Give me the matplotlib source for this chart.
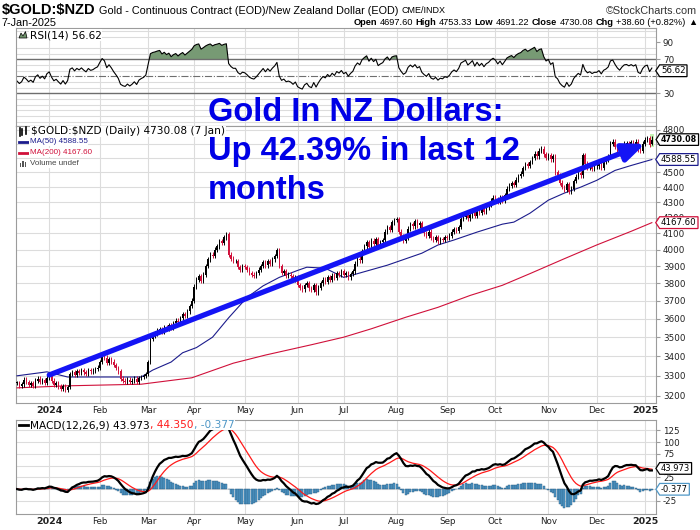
import numpy as np
import pandas as pd
import matplotlib
matplotlib.use('Agg')
import matplotlib.pyplot as plt
from matplotlib.lines import Line2D
from matplotlib.patches import Polygon, Rectangle
from matplotlib.path import Path
from matplotlib.ticker import FixedLocator, NullLocator, FuncFormatter
from matplotlib import font_manager

# trading days shown on the chart (weekdays minus exchange holidays)
holidays = ['2023-12-25', '2024-01-01', '2024-03-29', '2024-12-25', '2025-01-01']
dates = pd.bdate_range('2023-12-11', '2025-01-07')
dates = dates[~dates.isin(pd.to_datetime(holidays))]

# daily closes ($GOLD:$NZD)
close_2023_12 = [3265, 3250, 3258, 3280, 3270, 3255, 3262, 3250, 3275, 3285, 3268, 3278, 3265, 3290]
close_2024_01 = [3300, 3275, 3255, 3262, 3248, 3235, 3250, 3230, 3245, 3310, 3320, 3305, 3322, 3315,
                 3328, 3318, 3310, 3330, 3322, 3326, 3335, 3342]
close_2024_02 = [3370, 3400, 3392, 3365, 3385, 3372, 3355, 3340, 3322, 3285, 3275, 3270, 3280, 3268,
                 3275, 3285, 3270, 3288, 3295, 3300, 3310]
close_2024_03 = [3370, 3490, 3510, 3520, 3535, 3545, 3530, 3555, 3545, 3565, 3550, 3575, 3590, 3580,
                 3605, 3625, 3615, 3640, 3670, 3700]
close_2024_04 = [3780, 3820, 3840, 3815, 3850, 3900, 3940, 3970, 3960, 4000, 4020, 4050, 4040, 4075,
                 4095, 3970, 3945, 3930, 3930, 3895, 3880, 3900]
close_2024_05 = [3895, 3880, 3860, 3850, 3845, 3860, 3880, 3900, 3925, 3905, 3930, 3915, 3940, 3960,
                 3995, 3900, 3860, 3870, 3845, 3850, 3840, 3820, 3835]
close_2024_06 = [3790, 3775, 3765, 3790, 3800, 3770, 3760, 3790, 3748, 3775, 3800, 3820, 3810, 3835,
                 3820, 3845, 3830, 3860, 3850, 3870]
close_2024_07 = [3850, 3860, 3835, 3855, 3870, 3915, 3945, 3935, 3990, 4020, 4045, 4015, 4055, 4035,
                 4065, 4025, 4045, 4060, 4110, 4140, 4120, 4170, 4185]
close_2024_08 = [4190, 4110, 4080, 4055, 4070, 4130, 4160, 4145, 4175, 4150, 4165, 4120, 4100, 4085,
                 4110, 4070, 4060, 4075, 4050, 4065, 4060, 4075]
close_2024_09 = [4070, 4085, 4110, 4125, 4115, 4140, 4190, 4205, 4220, 4195, 4215, 4240, 4210, 4250,
                 4230, 4255, 4235, 4265, 4280, 4310, 4330]
close_2024_10 = [4320, 4300, 4330, 4310, 4345, 4390, 4410, 4425, 4415, 4450, 4475, 4490, 4530, 4555,
                 4545, 4570, 4600, 4630, 4610, 4650, 4665, 4625, 4600]
close_2024_11 = [4620, 4590, 4610, 4500, 4480, 4430, 4400, 4380, 4420, 4370, 4390, 4440, 4470, 4495,
                 4480, 4620, 4560, 4530, 4545, 4525, 4540]
close_2024_12 = [4540, 4560, 4530, 4570, 4585, 4610, 4700, 4715, 4680, 4650, 4630, 4670, 4700, 4705,
                 4695, 4710, 4700, 4715, 4660, 4650, 4700]
close_2025_01 = [4730, 4740, 4691.48, 4730.08]

closes = np.array(close_2023_12 + close_2024_01 + close_2024_02 + close_2024_03 + close_2024_04 +
                  close_2024_05 + close_2024_06 + close_2024_07 + close_2024_08 + close_2024_09 +
                  close_2024_10 + close_2024_11 + close_2024_12 + close_2025_01, dtype=float)

last_open, last_high, last_low, last_close = 4697.60, 4753.33, 4691.22, 4730.08

# moving averages (bar number, value)
ma50_idx = [0, 13, 22, 54, 59, 67, 72, 78, 85, 92, 100, 107, 114, 122, 126, 134, 142, 147, 161,
            176, 183, 190, 200, 211, 216, 223, 231, 238, 245, 252, 260, 267, 276]
ma50_val = [3300, 3320, 3294, 3294, 3329, 3370, 3418, 3445, 3500, 3605, 3719, 3785, 3834, 3875,
            3894, 3888, 3834, 3852, 3906, 3978, 4028, 4059, 4108, 4158, 4171, 4228, 4313, 4360,
            4399, 4445, 4513, 4547, 4588.55]
ma200_idx = [0, 22, 54, 76, 94, 108, 128, 142, 154, 169, 183, 197, 211, 223, 238, 252, 267, 276]
ma200_val = [3240, 3250, 3258, 3290, 3364, 3406, 3460, 3500, 3545, 3608, 3663, 3730, 3788, 3856,
             3945, 4028, 4113, 4167.60]

# trend arrow drawn on the chart
arrow_start = ('2024-01-02', 3304)
arrow_end = ('2025-01-02', 4699)

rsi_last = 56.62
macd_last, signal_last, hist_last = 43.973, 44.350, -0.377

# ---- indicators
opens = np.r_[closes[0], closes[:-1]]
opens[-1] = last_open
delta = np.diff(closes, prepend=closes[0])
gains = np.clip(delta, 0, None)
losses = np.clip(-delta, 0, None)
avg_gain, avg_loss = 8.0, 10.0
rsi = []
for g, l in zip(gains, losses):
    avg_gain = (avg_gain * 13 + g) / 14
    avg_loss = (avg_loss * 13 + l) / 14
    rsi.append(100 - 100 / (1 + avg_gain / avg_loss))
rsi = np.array(rsi)

s = pd.Series(closes)
macd = (s.ewm(span=12, adjust=False).mean() - s.ewm(span=26, adjust=False).mean()).values
signal = pd.Series(macd).ewm(span=9, adjust=False).mean().values
hist = macd - signal

x = np.arange(len(closes))
month_pos = [i for i in range(1, len(dates)) if dates[i].month != dates[i - 1].month]
month_lab = [str(dates[i].year) if dates[i].month == 1 else dates[i].strftime('%b') for i in month_pos]

# ---- fonts
names = {f.name for f in font_manager.fontManager.ttflist}
if 'Liberation Sans Narrow' in names:
    NARROW, NSZ, NSZ2 = ['Liberation Sans Narrow', 'DejaVu Sans'], 9.3, 9.3
else:
    NARROW, NSZ, NSZ2 = ['Liberation Sans', 'DejaVu Sans'], 7.8, 6.7
plt.rcParams['font.family'] = ['DejaVu Sans']

W, H = 700, 530
fig = plt.figure(figsize=(7, 5.3), dpi=100)


def fx(px):
    return px / W


def fy(py):
    return 1 - py / H


L, R = 16, 656
ax_rsi = fig.add_axes([fx(L), fy(126), (R - L) / W, (126 - 28) / H])
ax = fig.add_axes([fx(L), fy(403), (R - L) / W, (403 - 126) / H])
ax_m = fig.add_axes([fx(L), fy(514), (R - L) / W, (514 - 420) / H])

GRID = '#dcdcdc'
SPINE = '#9c9c9c'
RED = '#d0103a'
NAVY = '#1c1c8c'
for a in (ax_rsi, ax, ax_m):
    a.set_xlim(-0.45, 277.8)
    for sp in a.spines.values():
        sp.set_color(SPINE)
        sp.set_linewidth(0.8)
    a.set_xticks(month_pos)
    a.set_xticklabels(month_lab)
    a.grid(True, axis='x', color=GRID, lw=0.8)
    a.yaxis.tick_right()
    a.tick_params(axis='y', which='major', labelsize=6.3, length=3, color=SPINE, pad=2, labelcolor='#222222')
    a.tick_params(axis='y', which='minor', length=0)
    a.tick_params(axis='x', length=0, labelsize=6.3, pad=2, labelcolor='#222222')
    a.set_axisbelow(True)
    for lab in a.get_xticklabels():
        if lab.get_text().isdigit():
            lab.set_fontweight('bold')
            lab.set_fontsize(6.8)
ax_rsi.tick_params(axis='x', labelbottom=False)

# ---- RSI panel (the 50 label sits under the value tag)
ax_rsi.set_ylim(-8.5, 107)
ax_rsi.set_yticks([30, 50, 70, 90])
ax_rsi.set_yticklabels(['30', '', '70', '90'])
ax_rsi.yaxis.set_minor_locator(FixedLocator([30 + k * 20 / 3 for k in range(-5, 12)]))
ax_rsi.grid(True, axis='y', which='minor', color=GRID, lw=0.8)
ax_rsi.axhline(70, color='#6e6e6e', lw=1.0)
ax_rsi.axhline(30, color='#6e6e6e', lw=1.0)
ax_rsi.axhline(50, color='#6e6e6e', lw=0.8, ls='-.')
ax_rsi.fill_between(x, 70, rsi, where=rsi > 70, interpolate=True, color='#779a74', lw=0)
ax_rsi.plot(x, rsi, color='black', lw=0.8)

# ---- price panel
ax.set_yscale('log')
ax.set_ylim(3166, 4829)
price_ticks = list(range(3200, 4801, 100))
ax.yaxis.set_major_locator(FixedLocator(price_ticks))
ax.yaxis.set_minor_locator(NullLocator())
ax.yaxis.set_major_formatter(FuncFormatter(lambda v, p: '' if round(v) in (4600, 4700) else f'{v:.0f}'))
ax.grid(True, axis='y', which='major', color=GRID, lw=0.8)

ax.plot(ma200_idx, ma200_val, color=RED, lw=0.8, zorder=3)
ax.plot(ma50_idx, ma50_val, color=NAVY, lw=0.8, zorder=3)

wick = 0.0035
up = closes >= opens
ccol = np.where(up, 'black', RED)
hi = np.maximum(opens, closes) * (1 + wick)
lo = np.minimum(opens, closes) * (1 - wick)
hi[-1], lo[-1] = last_high, last_low
ax.bar(x[-1], last_high - last_low + 30, bottom=last_low - 15, width=2.0, color='#c6f2b4', zorder=2)
ax.vlines(x, lo, hi, colors=ccol, lw=0.7, zorder=4)
body_lo = np.minimum(opens, closes)
body_h = np.maximum(np.abs(closes - opens), 3)
ax.bar(x, body_h, bottom=body_lo, width=0.62, color=ccol, lw=0, zorder=4)

d0 = dates.get_loc(pd.Timestamp(arrow_start[0]))
d1 = dates.get_loc(pd.Timestamp(arrow_end[0]))
ax.annotate('', xy=(d1, arrow_end[1]), xytext=(d0, arrow_start[1]),
            arrowprops=dict(arrowstyle='-|>,head_length=1.3,head_width=0.55', lw=3.8,
                            color='#1414f5', shrinkA=0, shrinkB=0, mutation_scale=10), zorder=6)

# ---- MACD panel (50 and 0 labels sit under the value tags)
ax_m.set_ylim(-53, 147)
ax_m.set_yticks(range(-25, 126, 25))
ax_m.set_yticklabels(['-25', '', '25', '', '75', '100', '125'])
ax_m.grid(True, axis='y', color=GRID, lw=0.8)
ax_m.bar(x, hist, width=0.85, color='#4f97c6', edgecolor='#25597f', lw=0.3, zorder=2)
ax_m.plot(x, signal, color='#ff1a1a', lw=0.9, zorder=3)
ax_m.plot(x, macd, color='black', lw=1.6, zorder=4)


# ---- right-hand value tags
def tag_shape(x0, y0, width, height, mutation_size):
    pad = 0.16 * mutation_size
    x0, y0, width, height = x0 - pad, y0 - pad, width + 2 * pad, height + 2 * pad
    tip = 0.45 * mutation_size
    return Path([(x0 - tip, y0 + height / 2), (x0, y0), (x0 + width, y0), (x0 + width, y0 + height),
                 (x0, y0 + height), (x0 - tip, y0 + height / 2)], closed=True)


def tag(a, value, text, edge, bold=False, size=6.2):
    a.annotate(text, xy=(1, value), xycoords=('axes fraction', 'data'), xytext=(3.6, 0),
               textcoords='offset points', ha='left', va='center', fontsize=size,
               fontweight='bold' if bold else 'normal', annotation_clip=False, zorder=10,
               bbox=dict(boxstyle=tag_shape, fc='white', ec=edge, lw=0.9))


tag(ax_rsi, rsi_last, f'{rsi_last:.2f}', 'black')
tag(ax, last_close, f'{last_close:.2f}', 'black', bold=True, size=5.8)
tag(ax, ma50_val[-1], f'{ma50_val[-1]:.2f}', NAVY)
tag(ax, ma200_val[-1], f'{ma200_val[-1]:.2f}', RED)
tag(ax_m, macd_last, f'{macd_last:.3f}', 'black', size=6.0)
tag(ax_m, hist_last, f'{hist_last:.3f}', '#4f97c6', size=6.0)

# ---- legends inside the panels
wbg = dict(fc='white', ec='none', pad=0.4)
fig.add_artist(Polygon([(fx(19), fy(38)), (fx(21), fy(33)), (fx(23), fy(36)), (fx(25.5), fy(31.5)),
                        (fx(27), fy(38))], closed=True, fc='#6f936c', ec='black', lw=0.5))
fig.text(fx(30), fy(35), f'RSI(14) {rsi_last:.2f}', fontsize=7.6, va='center', bbox=wbg)

for xx, y0, y1 in [(19.5, 128, 136), (22.5, 129, 135), (25.5, 127, 134)]:
    fig.add_artist(Line2D([fx(xx), fx(xx)], [fy(y0), fy(y1)], color='black', lw=1.2))
fig.text(fx(31), fy(131.5), f'\\$GOLD:\\$NZD (Daily) {last_close:.2f} (7 Jan)', fontsize=7.6,
         va='center', bbox=wbg)
fig.add_artist(Line2D([fx(19), fx(28)], [fy(142), fy(142)], color=NAVY, lw=2))
fig.text(fx(29.5), fy(142), f'MA(50) {ma50_val[-1]:.2f}', fontsize=5.8, family='Liberation Sans',
         color=NAVY, va='center', bbox=wbg)
fig.add_artist(Line2D([fx(19), fx(28)], [fy(152.5), fy(152.5)], color=RED, lw=2))
fig.text(fx(29.5), fy(152.5), f'MA(200) {ma200_val[-1]:.2f}', fontsize=5.8, family='Liberation Sans',
         color=RED, va='center', bbox=wbg)
for xx, hh in [(19.5, 4), (22, 6), (24.5, 5)]:
    fig.add_artist(Rectangle((fx(xx), fy(167)), 1.8 / W, hh / H, color='#555555', lw=0))
fig.text(fx(29.5), fy(163.5), 'Volume undef', fontsize=5.8, family='Liberation Sans',
         color='#444444', va='center', bbox=wbg)

renderer = fig.canvas.get_renderer()


def text_run(x0, y0, pieces, gap=0.0, right=None, **kw):
    texts, widths = [], []
    for txt, weight, color in pieces:
        t = fig.text(fx(x0), fy(y0), txt, ha='left', va='center', fontweight=weight, color=color, **kw)
        texts.append(t)
        widths.append(t.get_window_extent(renderer).width)
    if right is not None:
        x0 = right - sum(widths) - gap * (len(widths) - 1)
    for t, w in zip(texts, widths):
        t.set_x(fx(x0))
        x0 += w + gap
    return x0


fig.add_artist(Line2D([fx(19), fx(28)], [fy(425), fy(425)], color='black', lw=2))
text_run(30.5, 425, [(f'MACD(12,26,9) {macd_last:.3f}', 'normal', 'black'),
                     (f', {signal_last:.3f}', 'normal', '#ff1a1a'),
                     (f', {hist_last:.3f}', 'normal', '#4f97c6')],
         fontsize=7.6, bbox=dict(fc='white', ec='none', pad=0.2))

# ---- header
fig.text(fx(2), fy(10), '\\$GOLD:\\$NZD', fontsize=10.5, fontweight='bold', family=NARROW, va='center')
text_run(99, 10.5, [('Gold - Continuous Contract (EOD)/New Zealand Dollar (EOD)', 'normal', 'black')],
         fontsize=NSZ, family=NARROW)
fig.text(fx(402), fy(10.5), 'CME/INDX', fontsize=NSZ - 1.3, family=NARROW, va='center')
fig.text(fx(697), fy(10.5), '\u00a9StockCharts.com', fontsize=NSZ, family=NARROW, va='center',
         ha='right', color='#333333')
fig.text(fx(2), fy(22.5), '7-Jan-2025', fontsize=NSZ, family=NARROW, va='center')
text_run(372, 22.5, [('Open', 'bold', 'black'), (f'{last_open:.2f}', 'normal', 'black'),
                     ('High', 'bold', 'black'), (f'{last_high:.2f}', 'normal', 'black'),
                     ('Low', 'bold', 'black'), (f'{last_low:.2f}', 'normal', 'black'),
                     ('Close', 'bold', 'black'), (f'{last_close:.2f}', 'normal', 'black'),
                     ('Chg', 'bold', 'black'), ('+38.60 (+0.82%)', 'normal', 'black'),
                     ('\u25b2', 'normal', 'black')],
         gap=2.5, right=697, fontsize=NSZ2, family=NARROW)

# ---- big annotation
BLUE = '#0000e6'
for line, base in [('Gold In NZ Dollars:', 121), ('Up 42.39% in last 12', 160), ('months', 199)]:
    fig.text(fx(208), fy(base), line, fontsize=23.5, fontweight='bold', family='Liberation Sans',
             color=BLUE, va='baseline', ha='left')

fig.savefig('out.png', dpi=100)
